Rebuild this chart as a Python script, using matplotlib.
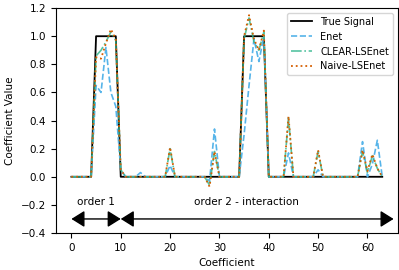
import matplotlib
matplotlib.use("Agg")
import matplotlib.pyplot as plt
import numpy as np

# --- données ---
true_signal = [0, 0, 0, 0, 0, 1, 1, 1, 1, 1, 0, 0, 0, 0, 0, 0,
               0, 0, 0, 0, 0, 0, 0, 0, 0, 0, 0, 0, 0, 0, 0, 0,
               0, 0, 0, 1, 1, 1, 1, 1, 0, 0, 0, 0, 0, 0, 0, 0,
               0, 0, 0, 0, 0, 0, 0, 0, 0, 0, 0, 0, 0, 0, 0, 0]

enet = [0, 0, 0, 0, 0, 0.65, 0.6, 0.92, 0.6, 0.5, 0.05, 0, 0, 0, 0.03, 0,
        0, 0, 0, 0, 0.08, 0, 0, 0, 0, 0, 0, 0, -0.03, 0.34, 0, 0,
        0, 0, 0, 0.3, 0.65, 0.98, 0.82, 1.0, 0, 0, 0, 0, 0.17, 0, 0, 0,
        0, 0, 0.05, 0, 0, 0, 0, 0, 0, 0, 0, 0.25, 0, 0.09, 0.26, 0]

clear_lsenet = [0, 0, 0, 0, 0, 0.86, 0.9, 0.96, 1.03, 0.97, 0.05, 0, 0, 0, 0, 0,
                0, 0, 0, 0, 0.2, 0, 0, 0, 0, 0, 0, 0, -0.06, 0.18, 0, 0,
                0, 0, 0, 0.98, 1.13, 0.96, 0.9, 1.03, 0, 0, 0, 0, 0.42, 0, 0, 0,
                0, 0, 0.18, 0, 0, 0, 0, 0, 0, 0, 0, 0.18, 0.03, 0.15, 0.06, 0]

naive_lsenet = [0, 0, 0, 0, 0, 0.85, 0.84, 0.95, 1.05, 0.98, 0.05, 0, 0, 0, 0, 0,
                0, 0, 0, 0, 0.21, 0, 0, 0, 0, 0, 0, 0, -0.07, 0.18, 0, 0,
                0, 0, 0, 1.0, 1.15, 0.98, 0.9, 1.04, 0, 0, 0, 0, 0.43, 0, 0, 0,
                0, 0, 0.19, 0, 0, 0, 0, 0, 0, 0, 0, 0.19, 0.04, 0.16, 0.06, 0]

coef = np.arange(len(true_signal))

plt.rcParams["font.size"] = 7.5

fig = plt.figure(figsize=(3.99, 2.70), dpi=100)
ax = fig.add_axes([0.14, 0.137, 0.857, 0.833])

ax.plot(coef, true_signal, color="black", lw=1.3, label="True Signal")
ax.plot(coef, enet, color="#56B4E9", ls="--", lw=1.2, label="Enet")
ax.plot(coef, clear_lsenet, color="#2bb58a", ls="-.", lw=1.2, alpha=0.8, label="CLEAR-LSEnet")
ax.plot(coef, naive_lsenet, color="#D55E00", ls=":", lw=1.3, label="Naive-LSEnet")

# flèches des ordres
fleche = dict(arrowstyle="<|-|>,head_length=0.4,head_width=0.25", color="black",
              lw=1.0, mutation_scale=20, shrinkA=0, shrinkB=0)
ax.annotate("", xy=(0, -0.3), xytext=(10, -0.3), arrowprops=fleche)
ax.annotate("", xy=(10, -0.3), xytext=(65.3, -0.3), arrowprops=fleche)
ax.text(5, -0.18, "order 1", ha="center", va="center")
ax.text(35.5, -0.18, "order 2 - interaction", ha="center", va="center")

ax.set_ylim(-0.4, 1.2)
ax.set_yticks(np.arange(-0.4, 1.21, 0.2))
ax.set_xticks(range(0, 61, 10))
ax.set_xlabel("Coefficient")
ax.set_ylabel("Coefficient Value")
ax.legend(loc="upper right", fontsize=7, handlelength=2.2)

fig.savefig("out.png", dpi=100)
